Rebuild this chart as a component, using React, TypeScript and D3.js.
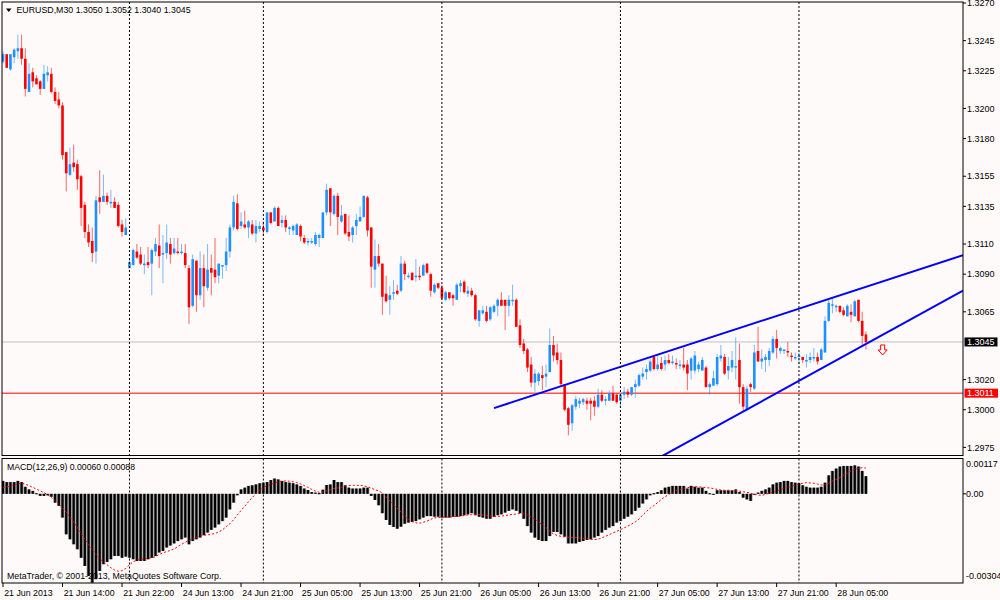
import React from "react";
import * as d3 from "d3";

// ---------- DATA (EURUSD M30) ----------
const opens = [
  1.3231,1.3236,1.3226,1.3234,1.3238,1.3240,1.3233,1.3211,1.3224,1.3220,
  1.3218,1.3213,1.3222,1.3223,1.3211,1.3206,1.3202,1.3171,1.3156,1.3164,
  1.3163,1.3155,1.3136,1.3118,1.3112,1.3105,1.3141,1.3138,1.3142,1.3137,
  1.3138,1.3136,1.3123,1.3116,1.3094,1.3096,1.3105,1.3103,1.3096,1.3098,
  1.3097,1.3105,1.3109,1.3103,1.3104,1.3110,1.3104,1.3105,1.3104,1.3104,
  1.3094,1.3069,1.3099,1.3076,1.3094,1.3081,1.3094,1.3093,1.3089,1.3095,
  1.3096,1.3105,1.3121,1.3137,1.3122,1.3123,1.3121,1.3123,1.3117,1.3120,
  1.3121,1.3118,1.3131,1.3125,1.3134,1.3124,1.3126,1.3120,1.3119,1.3116,
  1.3122,1.3114,1.3111,1.3111,1.3110,1.3114,1.3114,1.3131,1.3147,1.3130,
  1.3142,1.3125,1.3130,1.3118,1.3116,1.3122,1.3125,1.3128,1.3141,1.3121,
  1.3093,1.3102,1.3097,1.3077,1.3073,1.3077,1.3079,1.3079,1.3097,1.3088,
  1.3091,1.3088,1.3089,1.3089,1.3097,1.3090,1.3078,1.3084,1.3081,1.3073,
  1.3078,1.3076,1.3073,1.3082,1.3085,1.3077,1.3079,1.3076,1.3059,1.3064,
  1.3065,1.3060,1.3065,1.3069,1.3073,1.3073,1.3069,1.3072,1.3073,1.3056,
  1.3044,1.3040,1.3030,1.3018,1.3019,1.3023,1.3022,1.3025,1.3043,1.3038,
  1.3033,1.3017,1.3001,1.2991,1.3002,1.3004,1.3005,1.3006,1.3006,1.3006,
  1.3002,1.3010,1.3006,1.3006,1.3011,1.3010,1.3006,1.3010,1.3012,1.3010,
  1.3015,1.3016,1.3022,1.3025,1.3026,1.3035,1.3027,1.3031,1.3030,1.3033,
  1.3031,1.3031,1.3029,1.3030,1.3030,1.3026,1.3026,1.3027,1.3026,1.3028,
  1.3015,1.3016,1.3017,1.3034,1.3035,1.3026,1.3028,1.3028,1.3033,1.3015,
  1.3000,1.3017,1.3014,1.3039,1.3032,1.3033,1.3033,1.3038,1.3047,1.3039,
  1.3039,1.3039,1.3036,1.3034,1.3035,1.3035,1.3032,1.3033,1.3034,1.3035,
  1.3033,1.3038,1.3059,1.3069,1.3068,1.3069,1.3066,1.3062,1.3065,1.3062,
  1.3073,1.3059,1.3050,
];
const highs = [
  1.3238,1.3236,1.3236,1.3240,1.3249,1.3249,1.3240,1.3230,1.3227,1.3222,
  1.3219,1.3229,1.3228,1.3227,1.3214,1.3211,1.3204,1.3171,1.3174,1.3176,
  1.3166,1.3156,1.3138,1.3123,1.3121,1.3142,1.3159,1.3156,1.3144,1.3146,
  1.3141,1.3138,1.3126,1.3127,1.3100,1.3107,1.3110,1.3108,1.3103,1.3108,
  1.3107,1.3114,1.3123,1.3116,1.3123,1.3114,1.3114,1.3114,1.3110,1.3110,
  1.3096,1.3103,1.3099,1.3105,1.3103,1.3110,1.3103,1.3114,1.3097,1.3096,
  1.3114,1.3123,1.3142,1.3143,1.3131,1.3132,1.3126,1.3126,1.3126,1.3125,
  1.3125,1.3131,1.3131,1.3135,1.3135,1.3129,1.3129,1.3122,1.3123,1.3124,
  1.3123,1.3116,1.3114,1.3114,1.3118,1.3117,1.3131,1.3150,1.3147,1.3143,
  1.3144,1.3136,1.3130,1.3129,1.3122,1.3130,1.3135,1.3142,1.3142,1.3121,
  1.3113,1.3110,1.3097,1.3089,1.3082,1.3086,1.3083,1.3102,1.3099,1.3091,
  1.3091,1.3100,1.3095,1.3097,1.3097,1.3091,1.3084,1.3084,1.3083,1.3079,
  1.3078,1.3077,1.3084,1.3086,1.3086,1.3082,1.3081,1.3077,1.3066,1.3069,
  1.3069,1.3069,1.3070,1.3074,1.3078,1.3073,1.3076,1.3083,1.3074,1.3060,
  1.3047,1.3041,1.3035,1.3027,1.3025,1.3029,1.3030,1.3054,1.3049,1.3044,
  1.3038,1.3017,1.3002,1.3004,1.3009,1.3008,1.3008,1.3008,1.3008,1.3009,
  1.3014,1.3013,1.3009,1.3013,1.3016,1.3011,1.3011,1.3015,1.3014,1.3015,
  1.3020,1.3024,1.3028,1.3030,1.3034,1.3036,1.3036,1.3035,1.3036,1.3037,
  1.3036,1.3034,1.3033,1.3041,1.3033,1.3035,1.3039,1.3032,1.3035,1.3029,
  1.3018,1.3026,1.3037,1.3043,1.3037,1.3035,1.3039,1.3048,1.3044,1.3017,
  1.3016,1.3018,1.3043,1.3055,1.3040,1.3037,1.3041,1.3049,1.3053,1.3042,
  1.3040,1.3045,1.3038,1.3038,1.3038,1.3035,1.3037,1.3038,1.3041,1.3038,
  1.3041,1.3062,1.3074,1.3074,1.3070,1.3069,1.3068,1.3070,1.3070,1.3073,
  1.3073,1.3065,1.3052,
];
const lows = [
  1.3230,1.3227,1.3225,1.3230,1.3233,1.3229,1.3208,1.3211,1.3214,1.3216,
  1.3209,1.3213,1.3218,1.3210,1.3203,1.3200,1.3166,1.3145,1.3155,1.3158,
  1.3146,1.3122,1.3114,1.3108,1.3098,1.3097,1.3130,1.3138,1.3136,1.3134,
  1.3134,1.3121,1.3115,1.3116,1.3094,1.3096,1.3100,1.3096,1.3090,1.3094,
  1.3076,1.3102,1.3094,1.3084,1.3100,1.3097,1.3103,1.3103,1.3103,1.3094,
  1.3057,1.3068,1.3065,1.3073,1.3068,1.3079,1.3076,1.3084,1.3084,1.3087,
  1.3092,1.3101,1.3119,1.3119,1.3120,1.3120,1.3114,1.3116,1.3111,1.3118,
  1.3116,1.3117,1.3123,1.3125,1.3122,1.3121,1.3118,1.3116,1.3116,1.3116,
  1.3112,1.3110,1.3109,1.3110,1.3109,1.3108,1.3114,1.3129,1.3122,1.3129,
  1.3116,1.3124,1.3116,1.3112,1.3111,1.3116,1.3125,1.3127,1.3115,1.3081,
  1.3081,1.3095,1.3063,1.3071,1.3063,1.3073,1.3076,1.3078,1.3086,1.3087,
  1.3086,1.3085,1.3086,1.3089,1.3090,1.3075,1.3077,1.3080,1.3073,1.3072,
  1.3073,1.3069,1.3073,1.3078,1.3077,1.3075,1.3075,1.3059,1.3055,1.3063,
  1.3058,1.3059,1.3064,1.3062,1.3069,1.3053,1.3062,1.3069,1.3055,1.3041,
  1.3037,1.3025,1.3015,1.3012,1.3016,1.3013,1.3015,1.3025,1.3032,1.3030,
  1.3016,1.2999,1.2983,1.2986,1.3000,1.3001,1.3003,1.3000,1.2993,1.2996,
  1.3001,1.3005,1.3003,1.3006,1.3006,1.3004,1.3002,1.3007,1.3008,1.3009,
  1.3008,1.3015,1.3020,1.3020,1.3025,1.3026,1.3026,1.3026,1.3026,1.3030,
  1.3030,1.3027,1.3027,1.3026,1.3013,1.3020,1.3024,1.3025,1.3026,1.3015,
  1.3010,1.3016,1.3016,1.3032,1.3023,1.3020,1.3025,1.3020,1.3004,1.2999,
  1.2999,1.3012,1.3013,1.3032,1.3027,1.3025,1.3029,1.3037,1.3034,1.3037,
  1.3037,1.3035,1.3032,1.3033,1.3030,1.3031,1.3028,1.3031,1.3032,1.3030,
  1.3033,1.3038,1.3058,1.3064,1.3065,1.3064,1.3062,1.3062,1.3058,1.3062,
  1.3058,1.3043,1.3040,
];
const closes = [
  1.3236,1.3227,1.3236,1.3239,1.3240,1.3233,1.3213,1.3223,1.3218,1.3216,
  1.3213,1.3223,1.3224,1.3211,1.3205,1.3202,1.3169,1.3157,1.3163,1.3161,
  1.3153,1.3134,1.3118,1.3111,1.3104,1.3139,1.3138,1.3142,1.3138,1.3138,
  1.3134,1.3122,1.3118,1.3121,1.3098,1.3106,1.3101,1.3097,1.3097,1.3096,
  1.3106,1.3110,1.3102,1.3104,1.3111,1.3103,1.3107,1.3104,1.3105,1.3096,
  1.3068,1.3100,1.3076,1.3094,1.3082,1.3093,1.3091,1.3088,1.3097,1.3096,
  1.3105,1.3121,1.3138,1.3120,1.3125,1.3121,1.3125,1.3117,1.3122,1.3122,
  1.3119,1.3131,1.3124,1.3134,1.3122,1.3126,1.3121,1.3121,1.3122,1.3123,
  1.3115,1.3111,1.3112,1.3112,1.3116,1.3116,1.3131,1.3146,1.3131,1.3142,
  1.3128,1.3129,1.3117,1.3115,1.3121,1.3126,1.3128,1.3142,1.3119,1.3095,
  1.3102,1.3097,1.3075,1.3072,1.3076,1.3078,1.3077,1.3097,1.3090,1.3089,
  1.3086,1.3089,1.3088,1.3096,1.3091,1.3079,1.3083,1.3081,1.3074,1.3078,
  1.3074,1.3074,1.3083,1.3084,1.3078,1.3079,1.3076,1.3060,1.3066,1.3066,
  1.3059,1.3068,1.3069,1.3073,1.3069,1.3069,1.3073,1.3073,1.3055,1.3043,
  1.3039,1.3028,1.3018,1.3024,1.3024,1.3021,1.3024,1.3043,1.3036,1.3033,
  1.3017,1.3000,1.2990,1.3003,1.3007,1.3006,1.3007,1.3004,1.3004,1.3002,
  1.3010,1.3006,1.3007,1.3011,1.3006,1.3005,1.3010,1.3012,1.3010,1.3015,
  1.3017,1.3023,1.3024,1.3027,1.3032,1.3027,1.3030,1.3027,1.3033,1.3031,
  1.3032,1.3030,1.3030,1.3028,1.3024,1.3034,1.3036,1.3030,1.3033,1.3015,
  1.3017,1.3021,1.3035,1.3036,1.3024,1.3029,1.3033,1.3029,1.3015,1.3002,
  1.3014,1.3015,1.3038,1.3032,1.3034,1.3035,1.3039,1.3047,1.3041,1.3041,
  1.3040,1.3038,1.3035,1.3035,1.3036,1.3033,1.3033,1.3035,1.3035,1.3032,
  1.3040,1.3059,1.3071,1.3070,1.3069,1.3065,1.3063,1.3069,1.3063,1.3072,
  1.3059,1.3049,1.3045,
];

// MACD(12,26,9) main histogram and signal, in units of 0.00001
const macdMain = [
  44,40,40,40,44,40,24,15,10,2,
  -7,-7,-5,-10,-30,-41,-81,-138,-155,-172,
  -189,-218,-246,-280,-303,-291,-263,-240,-232,-223,
  -212,-212,-218,-214,-218,-223,-229,-229,-229,-223,
  -218,-212,-200,-195,-183,-176,-169,-161,-155,-149,
  -172,-161,-155,-149,-141,-132,-123,-115,-104,-93,
  -81,-53,-30,-5,15,21,27,29,32,36,
  38,40,47,52,49,44,40,38,36,32,
  27,18,13,6,4,2,14,30,32,47,
  40,40,29,21,18,18,18,21,21,-7,
  -21,-39,-66,-89,-106,-113,-119,-112,-102,-98,
  -96,-93,-87,-81,-76,-76,-78,-78,-81,-81,
  -81,-78,-78,-76,-73,-70,-66,-73,-78,-81,
  -85,-85,-78,-73,-70,-64,-58,-53,-58,-66,
  -85,-110,-132,-149,-157,-161,-161,-144,-130,-130,
  -138,-146,-169,-169,-169,-164,-161,-157,-155,-149,
  -144,-132,-123,-115,-110,-98,-93,-85,-78,-70,
  -58,-47,-33,-19,-5,2,6,12,21,24,
  27,27,27,27,18,27,24,21,21,10,
  2,-2,12,12,12,12,12,15,6,-13,
  -19,-24,-2,4,10,15,21,32,38,40,
  44,44,40,38,36,29,24,21,21,21,
  24,38,63,78,86,93,95,95,95,97,
  93,78,60,
];
const macdSignal = [
  21,23,27,30,35,36,33,28,22,16,
  10,4,-3,-12,-23,-35,-48,-63,-79,-97,
  -115,-135,-155,-173,-190,-207,-221,-232,-242,-252,
  -260,-264,-262,-254,-242,-232,-226,-223,-222,-220,
  -218,-214,-207,-201,-197,-193,-188,-180,-172,-165,
  -159,-154,-149,-144,-141,-140,-138,-135,-130,-123,
  -112,-102,-88,-72,-57,-42,-27,-13,1,13,
  21,28,32,37,41,43,44,43,41,38,
  34,28,22,15,9,5,6,10,14,18,
  20,22,25,28,29,29,29,27,24,19,
  14,10,3,-10,-24,-37,-49,-62,-76,-87,
  -95,-99,-100,-97,-93,-87,-82,-81,-80,-79,
  -79,-78,-77,-76,-74,-72,-71,-70,-71,-72,
  -73,-76,-78,-77,-76,-74,-72,-70,-69,-67,
  -68,-72,-79,-86,-96,-105,-115,-127,-137,-142,
  -145,-147,-148,-149,-149,-150,-152,-153,-155,-156,
  -155,-150,-145,-139,-133,-128,-122,-116,-110,-103,
  -96,-86,-72,-60,-49,-40,-30,-19,-10,-2,
  5,11,15,19,21,23,24,24,23,21,
  20,18,15,13,12,12,11,10,9,7,
  5,2,-2,-4,-5,-2,2,5,10,14,
  19,22,25,30,34,36,38,37,36,33,
  30,30,36,44,49,55,64,71,78,83,
  87,89,88,
];

const timeLabels = [
  "21 Jun 2013", "21 Jun 14:00", "21 Jun 22:00", "24 Jun 13:00", "24 Jun 21:00",
  "25 Jun 05:00", "25 Jun 13:00", "25 Jun 21:00", "26 Jun 05:00", "26 Jun 13:00",
  "26 Jun 21:00", "27 Jun 05:00", "27 Jun 13:00", "27 Jun 21:00", "28 Jun 05:00",
];
const timeLabelBars = [0, 16, 32, 48, 64, 80, 96, 112, 128, 144, 160, 176, 192, 208, 224];
const separatorBars = [34, 70, 118, 166, 214];

const priceTicks = [1.327, 1.3245, 1.3225, 1.32, 1.318, 1.3155, 1.3135, 1.311, 1.309, 1.3065, 1.302, 1.3, 1.2975];
const macdTickLabels = ["0.00117", "0.00", "-0.00304"];

const symbolTitle = "EURUSD,M30";
const lastOHLC = ["1.3050", "1.3052", "1.3040", "1.3045"];
const macdTitle = "MACD(12,26,9) 0.00060 0.00088";
const copyright = "MetaTrader, © 2001-2013, MetaQuotes Software Corp.";

const bidPrice = 1.3045;
const hLinePrice = 1.3011;
// trend lines: two anchor points (bar index, price), drawn from startBar to the right edge
const trendLines = [
  { a: 132, pa: 1.30011, b: 258.1, pb: 1.31026, startBar: 132 },
  { a: 190.05, pa: 1.29867, b: 241.1, pb: 1.3056, startBar: 160 },
];
const arrowBar = 236.5;
const arrowPrice = 1.3043;

// ---------- LAYOUT ----------
const W = 1000;
const H = 600;
const LEFT = 2;
const RIGHT = 963;
const MAIN_TOP = 2;
const MAIN_BOTTOM = 455.5;
const MACD_TOP = 458.5;
const MACD_BOTTOM = 583;
const FONT = "'Liberation Sans', Arial, sans-serif";
const BULL = "#1E90FF";
const BEAR = "#FF0000";

export default function App() {
  const x = d3.scaleLinear().domain([0, 258.1]).range([3, 963]);
  const y = d3.scaleLinear().domain([1.2975, 1.327]).range([447.4, 3]);
  const ym = d3.scaleLinear().domain([-304, 117]).range([583, 459.5]);
  const step = x(1) - x(0);
  const bodyW = 2.6;

  const signalPath = d3
    .line<number>()
    .x((_, i) => x(i))
    .y((v) => ym(v))(macdSignal) as string;

  const trendPaths = trendLines.map((t) => {
    const slope = (t.pb - t.pa) / (t.b - t.a);
    const endBar = 258.1;
    const p0 = t.pa + slope * (t.startBar - t.a);
    const p1 = t.pa + slope * (endBar - t.a);
    return { x1: x(t.startBar), y1: y(p0), x2: x(endBar), y2: y(p1) };
  });

  const ax = x(arrowBar);
  const ay = y(arrowPrice);
  const arrowD = `M${ax - 2},${ay} L${ax + 2},${ay} L${ax + 2},${ay + 5} L${ax + 4.5},${ay + 5} L${ax},${ay + 10} L${ax - 4.5},${ay + 5} L${ax - 2},${ay + 5} Z`;

  return (
    <svg
      width={W}
      height={H}
      style={{ position: "absolute", left: 0, top: 0, background: "#FFFAFA" }}
      fontFamily={FONT}
    >
      <defs>
        <clipPath id="mainClip">
          <rect x={LEFT} y={MAIN_TOP} width={RIGHT - LEFT} height={MAIN_BOTTOM - MAIN_TOP} />
        </clipPath>
        <clipPath id="macdClip">
          <rect x={LEFT} y={MACD_TOP} width={RIGHT - LEFT} height={MACD_BOTTOM - MACD_TOP} />
        </clipPath>
      </defs>
      <rect x={0} y={0} width={W} height={H} fill="#FFFAFA" />

      <g clipPath="url(#mainClip)">
        {/* bid line */}
        <line x1={LEFT} x2={RIGHT} y1={y(bidPrice)} y2={y(bidPrice)} stroke="#C0C0C0" strokeWidth={1} />
        {/* horizontal line */}
        <line x1={LEFT} x2={RIGHT} y1={y(hLinePrice)} y2={y(hLinePrice)} stroke="#FF0000" strokeWidth={1} />

        {/* candles */}
        {closes.map((c, i) => {
          const o = opens[i];
          const col = c >= o ? BULL : BEAR;
          const cx = x(i);
          const top = y(Math.max(o, c));
          const bot = y(Math.min(o, c));
          return (
            <g key={"c" + i}>
              <line x1={cx} x2={cx} y1={y(highs[i])} y2={y(lows[i])} stroke={col} strokeWidth={1} strokeOpacity={0.6} />
              <rect x={cx - bodyW / 2} y={top} width={bodyW} height={Math.max(1, bot - top)} fill={col} />
            </g>
          );
        })}

        {/* trend lines */}
        {trendPaths.map((t, k) => (
          <line key={"t" + k} x1={t.x1} y1={t.y1} x2={t.x2} y2={t.y2} stroke="#0000FF" strokeWidth={2} />
        ))}

        {/* down arrow */}
        <path d={arrowD} fill="#FFFAFA" stroke="#FF0000" strokeWidth={1} />
      </g>

      {/* MACD */}
      <g clipPath="url(#macdClip)">
        {macdMain.map((v, i) => {
          const cx = x(i);
          const t = ym(Math.max(v, 0));
          const b = ym(Math.min(v, 0));
          const h = Math.max(1, b - t);
          return (
            <g key={"m" + i}>
              <rect x={cx - step / 2} y={t} width={step} height={h} fill="#9A9A9A" />
              <rect x={cx - 1.1} y={t} width={2.2} height={h} fill="#000" />
            </g>
          );
        })}
        <path d={signalPath} fill="none" stroke="#FF0000" strokeWidth={1} strokeDasharray="2,2" />
      </g>

      {/* header and panel texts */}
      <path d="M6,8.5 L11.5,8.5 L8.75,12 Z" fill="#000" />
      <text x={16.5} y={13.2} fontSize={8.8} fill="#000">
        {symbolTitle + "  " + lastOHLC.join(" ")}
      </text>
      <text x={7} y={469.5} fontSize={8.7} fill="#000">
        {macdTitle}
      </text>
      <text x={7} y={579} fontSize={8.8} fill="#000">
        {copyright}
      </text>

      {/* period separators (drawn over panel contents) */}
      {separatorBars.map((b) => (
        <g key={"sep" + b}>
          <line x1={x(b)} x2={x(b)} y1={MAIN_TOP} y2={MAIN_BOTTOM} stroke="#000" strokeWidth={1} strokeDasharray="2,2" />
          <line x1={x(b)} x2={x(b)} y1={MACD_TOP} y2={MACD_BOTTOM} stroke="#000" strokeWidth={1} strokeDasharray="2,2" />
        </g>
      ))}

      {/* frames */}
      <rect x={LEFT} y={MAIN_TOP} width={RIGHT - LEFT} height={MAIN_BOTTOM - MAIN_TOP} fill="none" stroke="#000" strokeWidth={1} />
      <rect x={LEFT} y={MACD_TOP} width={RIGHT - LEFT} height={MACD_BOTTOM - MACD_TOP} fill="none" stroke="#000" strokeWidth={1} />

      {/* price axis */}
      {priceTicks.map((p) => (
        <g key={"p" + p}>
          <line x1={RIGHT} x2={RIGHT + 3} y1={y(p)} y2={y(p)} stroke="#000" />
          <text x={967} y={y(p) + 3.2} fontSize={9} fill="#000">
            {p.toFixed(4)}
          </text>
        </g>
      ))}
      {/* current price / hline labels */}
      <rect x={964.5} y={y(bidPrice) - 4.5} width={33} height={9} fill="#000" />
      <text x={967} y={y(bidPrice) + 3.2} fontSize={9} fill="#FFF">
        {bidPrice.toFixed(4)}
      </text>
      <rect x={964.5} y={y(hLinePrice) - 4.5} width={33.5} height={9} fill="#FF0000" />
      <text x={967} y={y(hLinePrice) + 3.2} fontSize={9} fill="#FFF">
        {hLinePrice.toFixed(4)}
      </text>

      {/* MACD axis */}
      <line x1={RIGHT} x2={RIGHT + 3} y1={ym(0)} y2={ym(0)} stroke="#000" />
      <text x={966} y={466.5} fontSize={9} fill="#000">{macdTickLabels[0]}</text>
      <text x={966} y={ym(0) + 3.2} fontSize={9} fill="#000">{macdTickLabels[1]}</text>
      <text x={966} y={579} fontSize={9} fill="#000">{macdTickLabels[2]}</text>

      {/* time axis */}
      {timeLabelBars.map((b, k) => (
        <g key={"tl" + b}>
          <line x1={x(b)} x2={x(b)} y1={MACD_BOTTOM} y2={MACD_BOTTOM + 4} stroke="#000" />
          <text x={x(b) + 1.2} y={595.5} fontSize={8.8} fill="#000">
            {timeLabels[k]}
          </text>
        </g>
      ))}
    </svg>
  );
}
